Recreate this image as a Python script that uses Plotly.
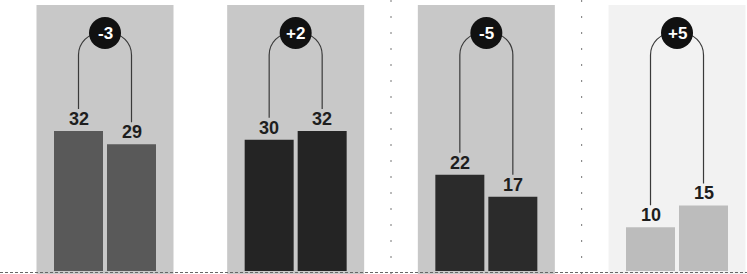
import plotly.graph_objects as go

# ---- data ----
groups = ["A", "B", "C", "D"]
before = [32, 30, 22, 10]
after = [29, 32, 17, 15]
bar_colors = ["#595959", "#242424", "#2b2b2b", "#bcbcbc"]
panel_colors = ["#c8c8c8", "#c8c8c8", "#c8c8c8", "#f2f2f2"]

# ---- layout geometry (pixels) ----
W, H = 747, 274
X0_PX = 105.0      # pixel of first group centre
XS = 190.67        # pixels per group step
Y0_PX = 271.0      # pixel of zero
YS = 4.375         # pixels per value unit

def dx(px):
    return px / XS

def dy(px):
    return px / YS

BAR_W = dx(49)
OFF = dx(26.5)
PANEL_HALF = dx(68.5)
PANEL_TOP = dy(Y0_PX - 5)
BADGE_Y = dy(Y0_PX - 33)
R = 22  # arch corner radius in px

xs = list(range(len(groups)))

fig = go.Figure()
fig.add_trace(go.Bar(x=[i - OFF for i in xs], y=before, width=BAR_W,
                     marker=dict(color=bar_colors, line=dict(width=0)),
                     hoverinfo="skip", showlegend=False))
fig.add_trace(go.Bar(x=[i + OFF for i in xs], y=after, width=BAR_W,
                     marker=dict(color=bar_colors, line=dict(width=0)),
                     hoverinfo="skip", showlegend=False))

shapes = []
annotations = []
k = 0.5523
for i, (a, b) in enumerate(zip(before, after)):
    # background panel
    shapes.append(dict(type="rect", layer="below", xref="x", yref="y",
                       x0=i - PANEL_HALF, x1=i + PANEL_HALF,
                       y0=-dy(5), y1=PANEL_TOP,
                       fillcolor=panel_colors[i], line=dict(width=0)))
    xl, xr = i - OFF, i + OFF
    ybl = a + dy(22)
    ybr = b + dy(22)
    rx, ry = dx(R), dy(R)
    path = (f"M {xl},{ybl} L {xl},{BADGE_Y - ry} "
            f"C {xl},{BADGE_Y - ry + ry*k} {xl + rx - rx*k},{BADGE_Y} {xl + rx},{BADGE_Y} "
            f"L {xr - rx},{BADGE_Y} "
            f"C {xr - rx + rx*k},{BADGE_Y} {xr},{BADGE_Y - ry + ry*k} {xr},{BADGE_Y - ry} "
            f"L {xr},{ybr}")
    shapes.append(dict(type="path", path=path, xref="x", yref="y",
                       line=dict(color="#3a3a3a", width=1.2), layer="above"))
    # badge
    shapes.append(dict(type="circle", xref="x", yref="y",
                       xsizemode="pixel", ysizemode="pixel",
                       xanchor=i, yanchor=BADGE_Y,
                       x0=-16, x1=16, y0=-16, y1=16,
                       fillcolor="#111111", line=dict(width=0), layer="above"))
    d = b - a
    annotations.append(dict(x=i, y=BADGE_Y, xref="x", yref="y",
                            text=f"<b>{'+' if d > 0 else '-'}{abs(d)}</b>",
                            showarrow=False,
                            font=dict(family="Liberation Sans, Arial", size=17, color="white")))
    for xv, v in ((xl, a), (xr, b)):
        annotations.append(dict(x=xv, y=v, xref="x", yref="y", text=f"<b>{v}</b>",
                                showarrow=False, yshift=12,
                                font=dict(family="Liberation Sans, Arial", size=18, color="#1e1e1e")))

# faint column rules and baseline from the print
for xv in (1.5, 2.5):
    shapes.append(dict(type="line", xref="x", yref="paper", x0=xv, x1=xv, y0=0, y1=1,
                       line=dict(color="#777777", width=1, dash="2px,14px"), layer="below"))
shapes.append(dict(type="line", xref="paper", yref="y", x0=0, x1=1,
                   y0=-dy(1.5), y1=-dy(1.5),
                   line=dict(color="#666666", width=1, dash="3px,2px"), layer="above"))

fig.update_layout(
    width=W, height=H,
    margin=dict(l=0, r=0, t=0, b=0),
    paper_bgcolor="white", plot_bgcolor="white",
    barmode="overlay",
    xaxis=dict(range=[-X0_PX / XS, (W - X0_PX) / XS], visible=False, fixedrange=True),
    yaxis=dict(range=[-(H - Y0_PX) / YS, Y0_PX / YS], visible=False, fixedrange=True),
    shapes=shapes, annotations=annotations,
    showlegend=False,
)

fig.write_html("out.html", config={"displayModeBar": False},
               post_script="document.body.style.margin='0';document.body.style.overflow='hidden';")
